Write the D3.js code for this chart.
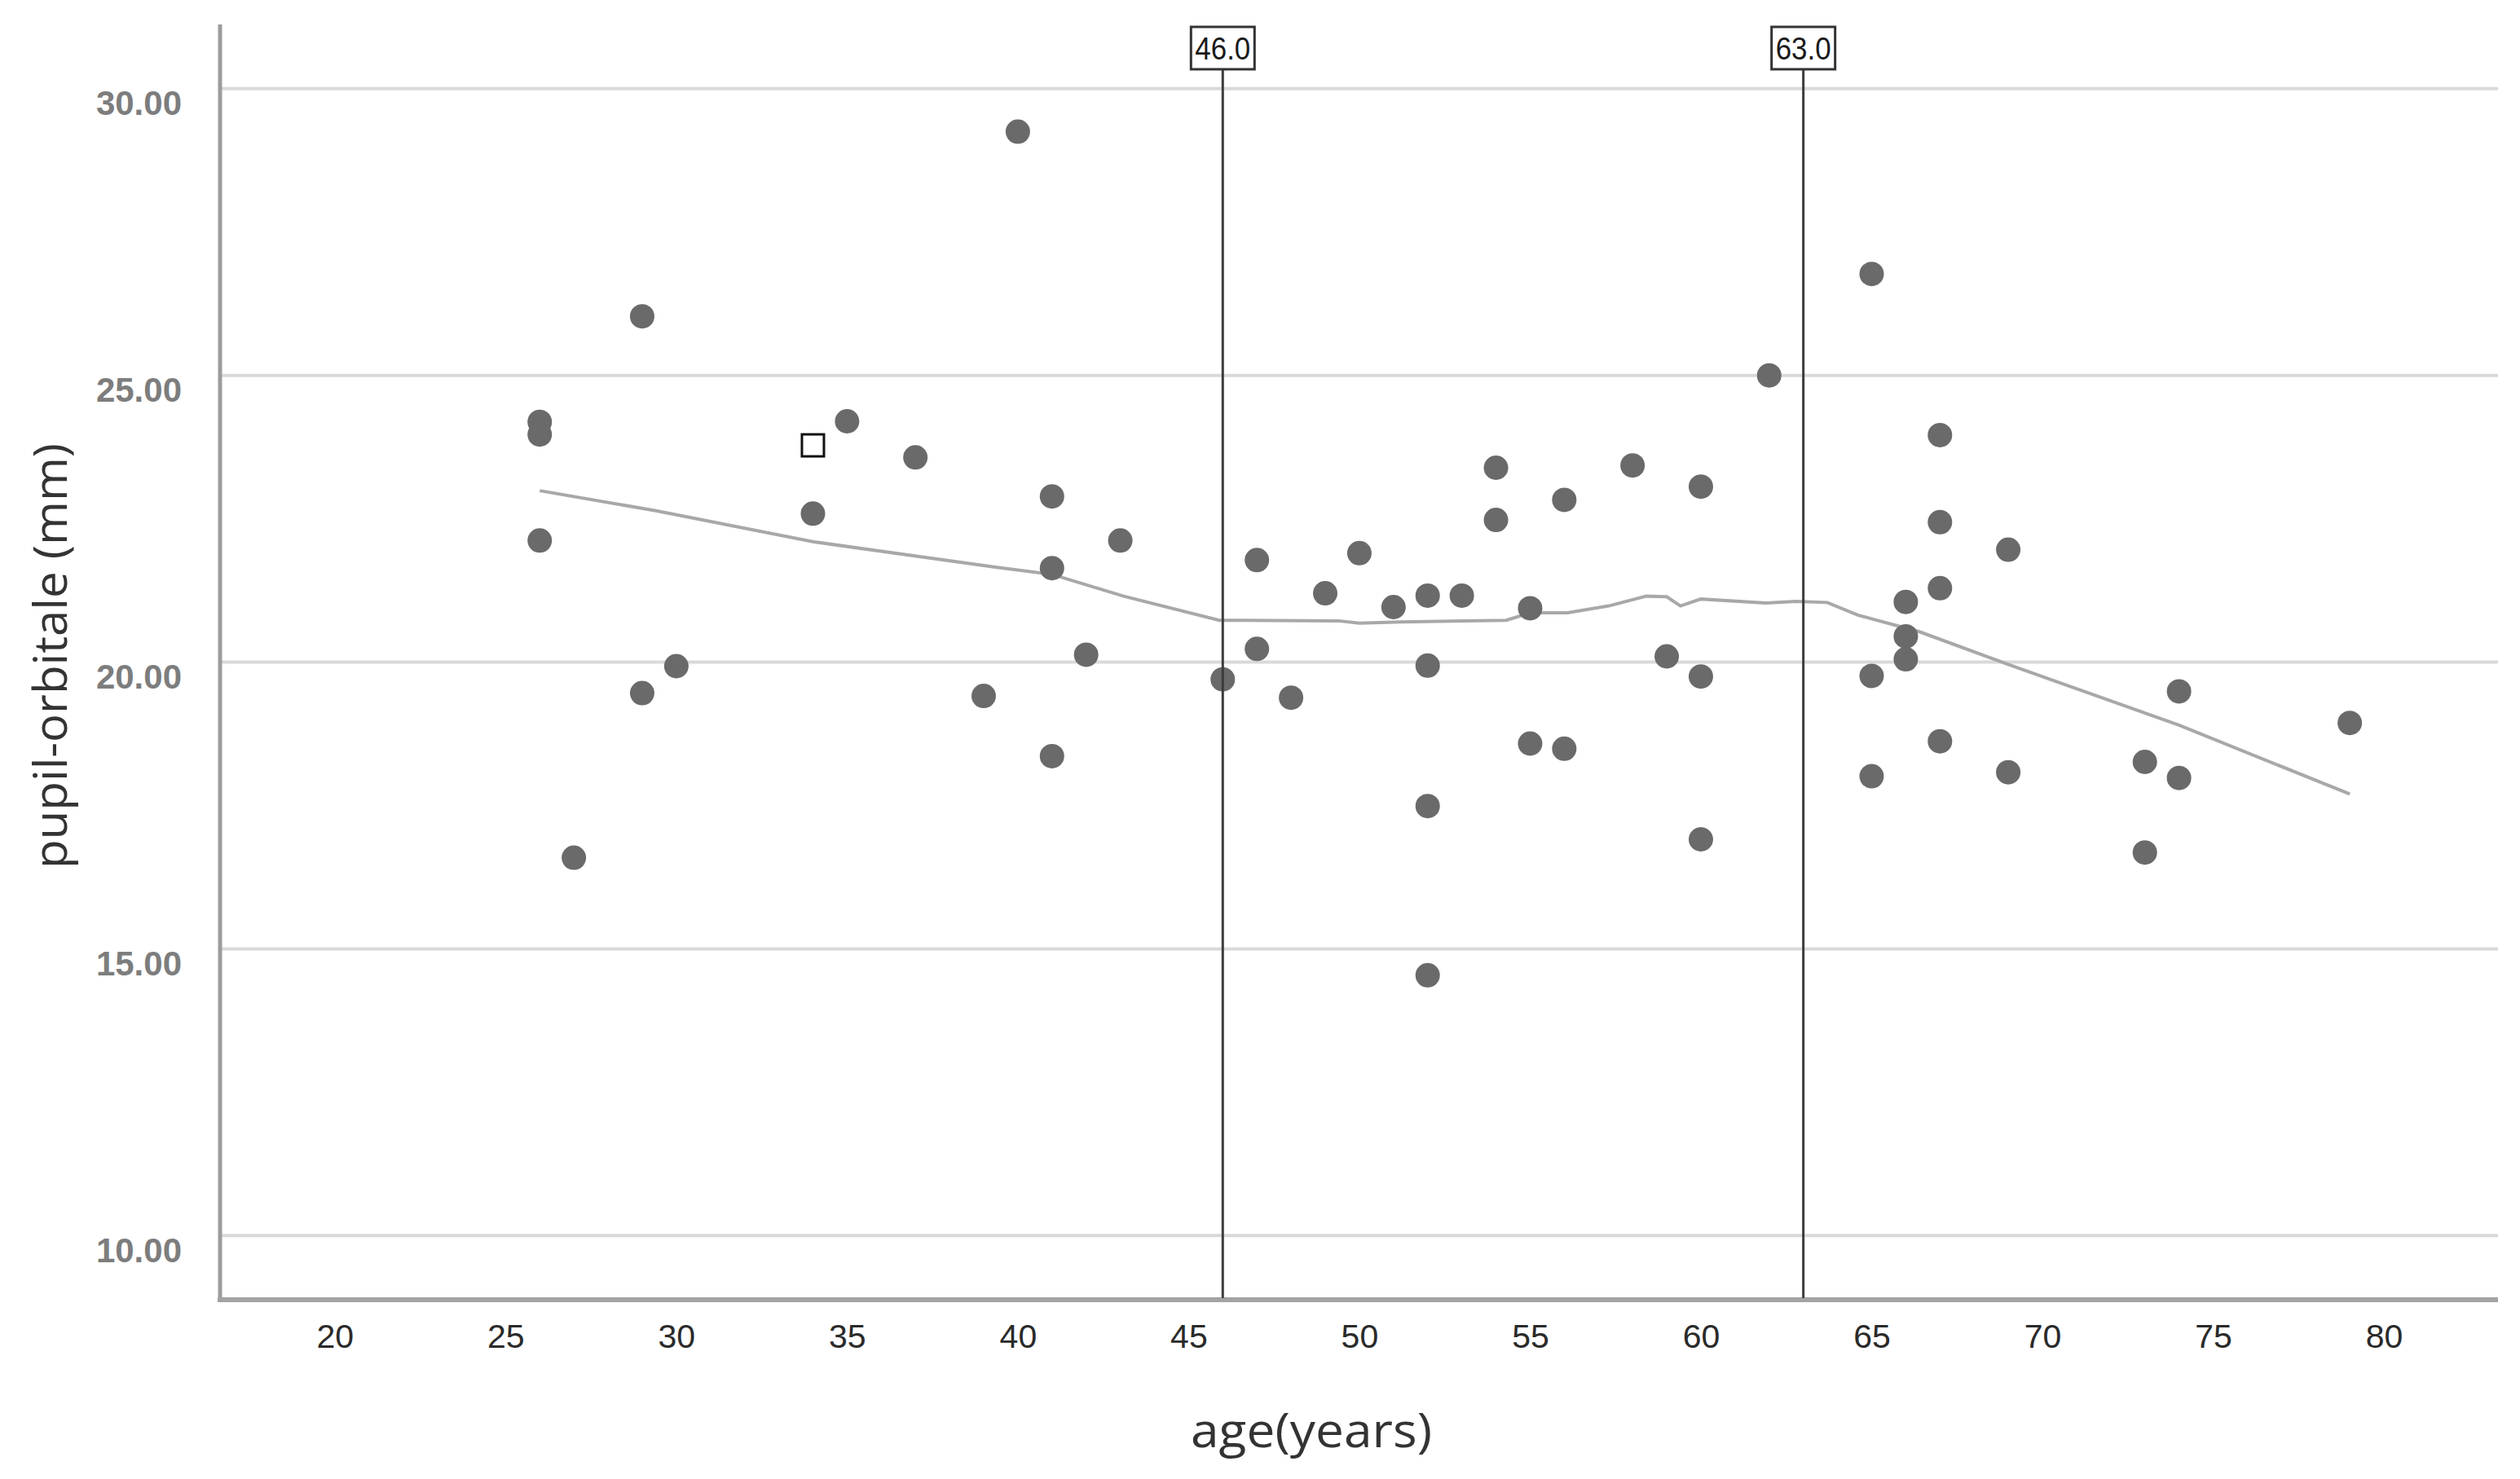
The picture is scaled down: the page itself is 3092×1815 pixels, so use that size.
<!DOCTYPE html>
<html>
<head>
<meta charset="utf-8">
<script src="https://cdn.jsdelivr.net/npm/d3@7"></script>
<style>
  body { margin: 0; background: #fff; }
</style>
</head>
<body>
<div id="chart"></div>
<script>
// data
var ages = [26, 26, 26, 27, 29, 29, 30, 34, 35, 37, 39, 40, 41, 41, 41, 42, 43,
            46, 47, 47, 48, 49, 50, 51, 52, 52, 52, 52, 53, 54, 54, 55, 55, 56, 56,
            58, 59, 60, 60, 60, 62, 65, 65, 65, 66, 66, 66, 67, 67, 67, 67,
            69, 69, 73, 73, 74, 74, 79]
var pupilOrbitale = [24.19, 23.97, 22.12, 16.59, 26.03, 19.46, 19.93, 22.59, 24.2, 23.57, 19.41, 29.25, 22.89, 21.64, 18.36, 20.13, 22.12,
            19.70, 21.78, 20.23, 19.38, 21.2, 21.9, 20.96, 21.16, 19.94, 17.49, 14.54, 21.16, 23.39, 22.48, 20.94, 18.58, 22.83, 18.49,
            23.43, 20.1, 23.06, 19.75, 16.91, 25.0, 26.77, 19.76, 18.01, 21.05, 20.45, 20.05, 23.96, 22.44, 21.29, 18.62,
            21.96, 18.08, 18.26, 16.68, 19.49, 17.98, 18.94]

// selected case (hollow square)
var selectedCase = [{age: 34, value: 23.78}]

// fit line
var fitAges = [26, 29.4, 34, 39.3, 41, 43.1, 45.9, 49.4, 50, 51.2, 54.3, 55, 56.1, 57.3, 58.4, 59, 59.4, 60, 61.9, 62.8, 63.7, 64.6, 66.4, 69, 74, 79]
var fitValues = [22.99, 22.64, 22.1, 21.66, 21.53, 21.15, 20.73, 20.72, 20.68, 20.7, 20.73, 20.86, 20.86, 20.98, 21.15, 21.14, 20.98, 21.1, 21.03, 21.06, 21.04, 20.82, 20.53, 19.96, 18.9, 17.7]

// reference lines
var refLines = [46.0, 63.0]

var xTicks = [20, 25, 30, 35, 40, 45, 50, 55, 60, 65, 70, 75, 80]
var yTicks = [10, 15, 20, 25, 30]

var W = 3092, H = 1815

var svg = d3.select("#chart")
  .append("svg")
  .attr("width", W)
  .attr("height", H)

// scales
var x = d3.scaleLinear()
  .domain([16.64, 83.34])
  .range([270, 3065])

var y = d3.scaleLinear()
  .domain([8.91, 31.12])
  .range([1593, 30])

// horizontal gridlines
svg.append("g")
  .selectAll("line")
  .data(yTicks)
  .enter()
  .append("line")
    .attr("x1", x.range()[0])
    .attr("x2", x.range()[1])
    .attr("y1", function(d) { return y(d) })
    .attr("y2", function(d) { return y(d) })
    .attr("stroke", "#d9d9d9")
    .attr("stroke-width", 4)

// axis lines
svg.append("line")
  .attr("x1", x.range()[0]).attr("x2", x.range()[0])
  .attr("y1", y.range()[1]).attr("y2", y.range()[0] + 2)
  .attr("stroke", "#9c9c9c")
  .attr("stroke-width", 5)

svg.append("line")
  .attr("x1", x.range()[0] - 3).attr("x2", x.range()[1])
  .attr("y1", y.range()[0] + 2).attr("y2", y.range()[0] + 2)
  .attr("stroke", "#a3a3a3")
  .attr("stroke-width", 6)

// X axis labels
var xAxis = svg.append("g")
  .attr("transform", "translate(0," + (y.range()[0] + 2) + ")")
  .call(d3.axisBottom(x).tickValues(xTicks).tickSize(0).tickPadding(30).tickFormat(d3.format("d")))
xAxis.select(".domain").remove()
xAxis.selectAll("text")
  .style("font-family", "'Liberation Sans', Arial, sans-serif")
  .style("font-size", "41px")
  .style("fill", "#2a2a2a")

// Y axis labels
var yAxis = svg.append("g")
  .attr("transform", "translate(" + x.range()[0] + ",0)")
  .call(d3.axisLeft(y).tickValues(yTicks).tickSize(0).tickPadding(47).tickFormat(d3.format(".2f")))
yAxis.select(".domain").remove()
yAxis.selectAll("text")
  .attr("dy", "0.76em")
  .style("font-family", "'Liberation Sans', Arial, sans-serif")
  .style("font-size", "42px")
  .style("font-weight", "bold")
  .style("fill", "#7d7d7d")

// fit line
var fitData = fitAges.map(function(a, i) { return {age: a, value: fitValues[i]} })
var line = d3.line()
  .x(function(d) { return x(d.age) })
  .y(function(d) { return y(d.value) })

svg.append("path")
  .datum(fitData)
  .attr("d", line)
  .attr("fill", "none")
  .attr("stroke", "#a8a8a8")
  .attr("stroke-width", 4)

// dots
var points = ages.map(function(a, i) { return {age: a, value: pupilOrbitale[i]} })
svg.append("g")
  .selectAll("circle")
  .data(points)
  .enter()
  .append("circle")
    .attr("cx", function(d) { return x(d.age) })
    .attr("cy", function(d) { return y(d.value) })
    .attr("r", 15)
    .attr("fill", "#6a6a6a")

svg.append("g")
  .selectAll("rect")
  .data(selectedCase)
  .enter()
  .append("rect")
    .attr("x", function(d) { return x(d.age) - 13.5 })
    .attr("y", function(d) { return y(d.value) - 13.5 })
    .attr("width", 27)
    .attr("height", 27)
    .attr("fill", "#fff")
    .attr("stroke", "#111")
    .attr("stroke-width", 3)

// reference lines with labels
var ref = svg.append("g")
  .selectAll("g")
  .data(refLines)
  .enter()
  .append("g")
    .attr("transform", function(d) { return "translate(" + x(d) + ",0)" })

ref.append("line")
  .attr("y1", 85)
  .attr("y2", y.range()[0])
  .attr("stroke", "#3c3c3c")
  .attr("stroke-width", 3)

ref.append("rect")
  .attr("x", -39)
  .attr("y", 33)
  .attr("width", 78)
  .attr("height", 52)
  .attr("fill", "#fff")
  .attr("stroke", "#333")
  .attr("stroke-width", 3)

ref.append("text")
  .attr("y", 73)
  .attr("text-anchor", "middle")
  .attr("textLength", 68)
  .attr("lengthAdjust", "spacingAndGlyphs")
  .style("font-family", "'Liberation Sans', Arial, sans-serif")
  .style("font-size", "38px")
  .style("fill", "#1a1a1a")
  .text(function(d) { return d3.format(".1f")(d) })

// axis titles
svg.append("text")
  .attr("x", 1609)
  .attr("y", 1776)
  .attr("text-anchor", "middle")
  .attr("textLength", 296)
  .attr("lengthAdjust", "spacingAndGlyphs")
  .style("font-family", "'Open Sans', sans-serif")
  .style("font-size", "58px")
  .style("fill", "#333")
  .text("age(years)")

svg.append("text")
  .attr("transform", "translate(82,805) rotate(-90)")
  .attr("text-anchor", "middle")
  .attr("textLength", 522)
  .attr("lengthAdjust", "spacingAndGlyphs")
  .style("font-family", "'Open Sans', sans-serif")
  .style("font-size", "56px")
  .style("fill", "#333")
  .text("pupil-orbitale (mm)")
</script>
</body>
</html>
